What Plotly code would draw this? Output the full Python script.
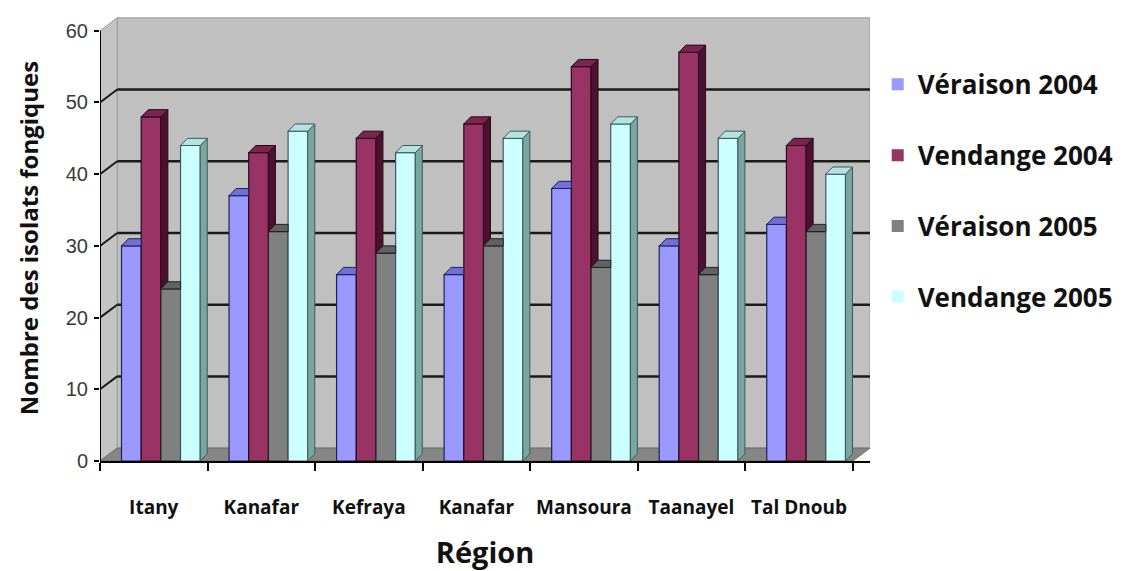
import plotly.graph_objects as go

# Fungal isolates counted per region, two sampling stages over two years
regions = ["Itany", "Kanafar", "Kefraya", "Kanafar", "Mansoura", "Taanayel", "Tal Dnoub"]
series_names = ["Véraison 2004", "Vendange 2004", "Véraison 2005", "Vendange 2005"]
veraison_2004 = [30, 37, 26, 26, 38, 30, 33]
vendange_2004 = [48, 43, 45, 47, 55, 57, 44]
veraison_2005 = [24, 32, 29, 30, 27, 26, 32]
vendange_2005 = [44, 46, 43, 45, 47, 45, 40]
y_ticks = [0, 10, 20, 30, 40, 50, 60]

series_values = [veraison_2004, vendange_2004, veraison_2005, vendange_2005]

# Face colours of the pseudo-3D columns: front, top, side
front_colors = ["#9999ff", "#993366", "#808080", "#ccffff"]
top_colors = ["#7070d6", "#7a2450", "#626262", "#b4e4e0"]
side_colors = ["#4c4c99", "#4a1230", "#404040", "#7aa6a2"]
edge_colors = ["#20205a", "#2a0818", "#202020", "#3c5a58"]

# Geometry (axis units)
GROUP_LEFT = -0.30     # left edge of first column relative to category centre
BAR_W = 0.183          # front-face width of a column
BAR_DX, BAR_DY = 0.065, 1.0     # depth of a column in projection
WALL_DX, WALL_DY = 0.16, 1.8    # depth of the chart box in projection
Y_MAX = 60
Y_TOP = Y_MAX + WALL_DY + 0.4
X_MIN, X_MAX = -0.5, len(regions) - 0.5

fig = go.Figure()

# ---- chart box: back wall, left wall, floor and gridlines ----
def poly(points):
    return "M " + " L ".join(f"{x},{y}" for x, y in points) + " Z"

shapes = []
shapes.append(dict(type="path", xref="x", yref="y", layer="below",
                   path=poly([(X_MIN + WALL_DX, WALL_DY), (X_MAX + WALL_DX, WALL_DY),
                              (X_MAX + WALL_DX, Y_MAX + WALL_DY), (X_MIN + WALL_DX, Y_MAX + WALL_DY)]),
                   fillcolor="#c0c0c0", line=dict(color="#9a9a9a", width=1)))
shapes.append(dict(type="path", xref="x", yref="y", layer="below",
                   path=poly([(X_MIN, 0), (X_MIN + WALL_DX, WALL_DY),
                              (X_MIN + WALL_DX, Y_MAX + WALL_DY), (X_MIN, Y_MAX)]),
                   fillcolor="#c4c4c4", line=dict(color="#9a9a9a", width=1)))
shapes.append(dict(type="path", xref="x", yref="y", layer="below",
                   path=poly([(X_MIN, 0), (X_MAX, 0), (X_MAX + WALL_DX, WALL_DY), (X_MIN + WALL_DX, WALL_DY)]),
                   fillcolor="#868686", line=dict(color="#6a6a6a", width=1)))
for v in y_ticks[1:-1]:
    shapes.append(dict(type="line", xref="x", yref="y", layer="below",
                       x0=X_MIN + WALL_DX, x1=X_MAX + WALL_DX, y0=v + WALL_DY, y1=v + WALL_DY,
                       line=dict(color="#1a1a1a", width=2.5)))
    shapes.append(dict(type="line", xref="x", yref="y", layer="below",
                       x0=X_MIN, x1=X_MIN + WALL_DX, y0=v, y1=v + WALL_DY,
                       line=dict(color="#1a1a1a", width=2)))
# front value axis
shapes.append(dict(type="line", xref="x", yref="y", layer="above",
                   x0=X_MIN, x1=X_MIN, y0=0, y1=Y_MAX, line=dict(color="#000000", width=2)))

# ---- front faces as bars ----
idx = list(range(len(regions)))
for k, (name, vals) in enumerate(zip(series_names, series_values)):
    fig.add_trace(go.Bar(
        x=idx, y=vals, name=name, showlegend=False,
        offset=GROUP_LEFT + k * BAR_W, width=BAR_W,
        marker=dict(color=front_colors[k], line=dict(color=edge_colors[k], width=1.2)),
        hovertemplate="%{y}<extra>" + name + "</extra>",
    ))

# ---- top and side faces derived from the same values ----
for k, vals in enumerate(series_values):
    top_x, top_y, side_x, side_y = [], [], [], []
    for i, h in enumerate(vals):
        left = i + GROUP_LEFT + k * BAR_W
        right = left + BAR_W
        nxt = series_values[k + 1][i] if k + 1 < len(series_values) else None
        # top face, hidden to the right of the column when the neighbour is taller
        if nxt is not None and nxt > h:
            pts = [(left, h), (right, h), (right, h + BAR_DY), (left + BAR_DX, h + BAR_DY)]
        else:
            pts = [(left, h), (right, h), (right + BAR_DX, h + BAR_DY), (left + BAR_DX, h + BAR_DY)]
        for px, py in pts + [pts[0]]:
            top_x.append(px); top_y.append(py)
        top_x.append(None); top_y.append(None)
        # side face, visible only above the neighbouring column
        low = 0 if nxt is None else nxt
        if low < h:
            pts = [(right, low), (right, h), (right + BAR_DX, h + BAR_DY), (right + BAR_DX, low + BAR_DY)]
            for px, py in pts + [pts[0]]:
                side_x.append(px); side_y.append(py)
            side_x.append(None); side_y.append(None)
    fig.add_trace(go.Scatter(x=side_x, y=side_y, mode="lines", fill="toself",
                             fillcolor=side_colors[k], line=dict(color=edge_colors[k], width=1),
                             showlegend=False, hoverinfo="skip"))
    fig.add_trace(go.Scatter(x=top_x, y=top_y, mode="lines", fill="toself",
                             fillcolor=top_colors[k], line=dict(color=edge_colors[k], width=1),
                             showlegend=False, hoverinfo="skip"))

# ---- legend entries ----
for k, name in enumerate(series_names):
    fig.add_trace(go.Scatter(x=[None], y=[None], mode="markers", name=name,
                             legendgroup=name,
                             marker=dict(symbol="square", size=9, color=front_colors[k])))

fig.update_layout(
    width=1147, height=571,
    margin=dict(l=100, r=277, t=15, b=110, autoexpand=False),
    paper_bgcolor="white", plot_bgcolor="white",
    shapes=shapes,
    showlegend=True,
    legend=dict(x=1.01, y=0.897, xanchor="left", yanchor="top",
                font=dict(family="Open Sans", size=26, color="#111111", weight="bold"),
                tracegroupgap=34, itemsizing="constant", bgcolor="rgba(0,0,0,0)"),
    xaxis=dict(range=[X_MIN, X_MAX + WALL_DX], tickvals=idx, ticktext=regions,
               automargin=False,
               showgrid=False, zeroline=False, showline=True, linecolor="#000000", linewidth=2,
               ticks="", ticklabelstandoff=28,
               minor=dict(tickvals=[i - 0.5 for i in range(len(regions) + 1)],
                          ticks="outside", ticklen=8, tickcolor="#000000", tickwidth=2),
               tickfont=dict(family="Open Sans", size=19, color="#111111", weight="bold"),
               title=dict(text="Région", standoff=24,
                          font=dict(family="Open Sans", size=29, color="#111111", weight="bold"))),
    yaxis=dict(range=[0, Y_TOP], tickvals=y_ticks, showgrid=False, zeroline=False,
               automargin=False,
               showline=False, ticks="outside", ticklen=5, tickcolor="#000000", tickwidth=2,
               ticklabelstandoff=2,
               tickfont=dict(family="Liberation Sans", size=20, color="#3a3a3a"),
               title=dict(text="Nombre des isolats fongiques", standoff=20,
                          font=dict(family="Open Sans", size=24, color="#111111", weight="bold"))),
)

fig.write_html("out.html")
